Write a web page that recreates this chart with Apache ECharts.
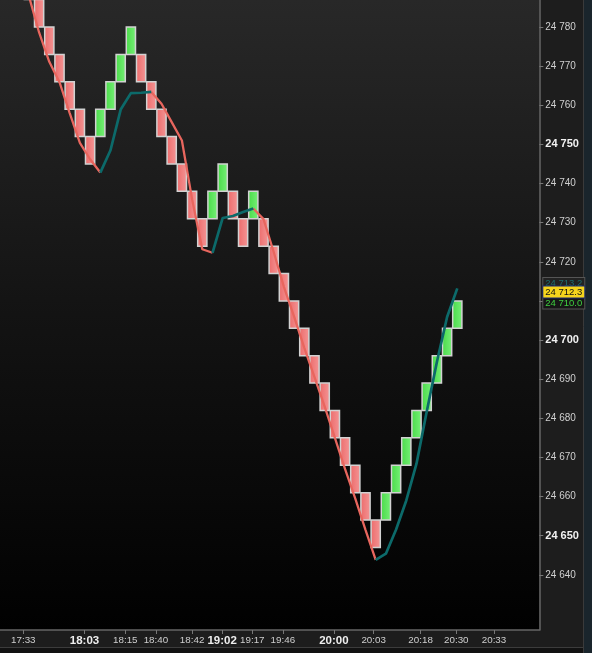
<!DOCTYPE html>
<html>
<head>
<meta charset="utf-8">
<script src="https://cdn.jsdelivr.net/npm/echarts@6/dist/echarts.min.js"></script>
<style>
html,body{margin:0;padding:0;background:#1d1d1d;}
#c{width:592px;height:653px;}
</style>
</head>
<body>
<div id="c"></div>
<script>
// ---- Data ----
const brickSize = 7;
// Renko bricks, one per column (open, close)
const brickOpen = [24794,24787,24780,24773,24766,24759,24752,24752,24759,24766,24773,24773,24766,24759,24752,24745,24738,24731,24731,24738,24738,24731,24731,24731,24724,24717,24710,24703,24696,24689,24682,24675,24668,24661,24654,24654,24661,24668,24675,24682,24689,24696,24703];
const brickClose = [24787,24780,24773,24766,24759,24752,24745,24759,24766,24773,24780,24766,24759,24752,24745,24738,24731,24724,24738,24745,24731,24724,24738,24724,24717,24710,24703,24696,24689,24682,24675,24668,24661,24654,24647,24661,24668,24675,24682,24689,24696,24703,24710];
// Trend line: downtrend (red) and uptrend (teal) parts
const downLine = [24787.9,24778.6,24771.1,24765.9,24758.0,24750.4,24746.2,24742.8,null,null,null,null,24763.4,24760.4,24755.7,24751.0,24736.0,24723.2,24722.3,null,null,null,24733.6,24730.9,24722.5,24713.6,24706.0,24698.0,24690.5,24683.0,24675.0,24667.0,24659.5,24651.5,24643.8,null,null,null,null,null,null,null,null];
const upLine = [null,null,null,null,null,null,null,24742.8,24748.5,24758.9,24763.1,24763.2,24763.4,null,null,null,null,null,24722.3,24731.2,24731.7,24732.7,24733.6,null,null,null,null,null,null,null,null,null,null,null,24643.8,24645.4,24651.6,24659.0,24668.4,24681.7,24694.4,24705.9,24713.2];
// Price axis ticks
const priceTicks = [24640,24650,24660,24670,24680,24690,24700,24710,24720,24730,24740,24750,24760,24770,24780];
const priceLabelTicks = [24640,24650,24660,24670,24680,24690,24700,24720,24730,24740,24750,24760,24770,24780];
// Time axis labels (positions in brick columns)
const timeTickPos = [-0.55,5.45,9.45,12.45,16.0,18.95,21.9,24.9,29.9,33.8,38.4,41.9,45.6];
const timeTickLabels = ['17:33','18:03','18:15','18:40','18:42','19:02','19:17','19:46','20:00','20:03','20:18','20:30','20:33'];
const timeTickBold = ['18:03','19:02','20:00'];
// Price tags on the right
const tagTeal = 24713.2, tagLast = 24712.3, tagBrick = 24710.0;

const FONT = '"Liberation Sans", Arial, sans-serif';
const chart = echarts.init(document.getElementById('c'), null, {renderer:'canvas'});

function fmtPrice(v){
  const s = String(Math.round(v));
  return s.slice(0,2) + ' ' + s.slice(2);
}
function tagText(v){
  const s = v.toFixed(1);
  return s.slice(0,2) + ' ' + s.slice(2);
}

const brickData = brickOpen.map((o,i)=>[i,o,brickClose[i]]);
const toXY = arr => arr.map((v,i)=>[i, v==null ? '-' : v]);

function tag(v, offY, color, bg, border){
  return {yAxis:v,
    lineStyle:{color:'rgba(0,0,0,0)',width:0},
    label:{show:true,position:'end',distance:4,offset:[0,offY],formatter:tagText(v),opacity:1,
    color:color,fontFamily:FONT,fontSize:9.5,backgroundColor:bg,borderColor:border,borderWidth:1,padding:[1,2,0,2]}};
}

const option = {
  backgroundColor:'#1d1d1d',
  animation:false,
  grid:{left:0,right:52.7,top:0,bottom:23,show:true,borderWidth:0,outerBoundsMode:'none',
    backgroundColor:{type:'linear',x:0,y:0,x2:0,y2:1,colorStops:[{offset:0,color:'#282828'},{offset:0.5,color:'#131313'},{offset:1,color:'#010101'}]}},
  xAxis:{
    type:'value', min:-2.833, max:50.04,
    splitLine:{show:false},
    axisLine:{show:true,onZero:false,lineStyle:{color:'#666',width:1.5}},
    axisTick:{show:true,customValues:timeTickPos,length:4,inside:false,lineStyle:{color:'#777'}},
    axisLabel:{show:true,customValues:timeTickPos,margin:5,color:'#cfcfcf',fontFamily:FONT,fontSize:9.8,
      formatter:function(v){
        let best=0,bd=1e9;
        timeTickPos.forEach((p,k)=>{const d=Math.abs(p-v); if(d<bd){bd=d;best=k;}});
        const t=timeTickLabels[best];
        return timeTickBold.indexOf(t)>=0 ? '{b|'+t+'}' : t;
      },
      rich:{b:{fontFamily:FONT,fontSize:11.5,fontWeight:'bold',color:'#eeeeee'}}
    }
  },
  yAxis:{
    type:'value', position:'right', min:24625.9, max:24786.9, scale:true,
    splitLine:{show:false},
    axisLine:{show:true,onZero:false,lineStyle:{color:'#666',width:1.5}},
    axisTick:{show:true,customValues:priceTicks,length:4,lineStyle:{color:'#777'}},
    axisLabel:{show:true,customValues:priceLabelTicks,margin:6,color:'#cfcfcf',fontFamily:FONT,fontSize:10,
      formatter:function(v){
        const s=fmtPrice(v);
        return (Math.round(v)%50===0) ? '{b|'+s+'}' : s;
      },
      rich:{b:{fontFamily:FONT,fontSize:11,fontWeight:'bold',color:'#f2f2f2'}}
    }
  },
  series:[
    {
      type:'custom', name:'bricks', data:brickData, z:2,
      clip:true,
      encode:{x:0,y:[1,2]},
      renderItem:function(params, api){
        const i=api.value(0), o=api.value(1), c=api.value(2);
        const up = c>o;
        const p1=api.coord([i-0.5, Math.max(o,c)]);
        const p2=api.coord([i+0.5, Math.min(o,c)]);
        const fill = up
          ? {type:'linear',x:0,y:0,x2:1,y2:0,colorStops:[{offset:0,color:'#48da48'},{offset:1,color:'#78f078'}]}
          : {type:'linear',x:0,y:0,x2:1,y2:0,colorStops:[{offset:0,color:'#ec6a6a'},{offset:1,color:'#f49696'}]};
        return {type:'rect',
          shape:{x:p1[0]+0.5,y:p1[1],width:p2[0]-p1[0]-1,height:p2[1]-p1[1]},
          style:{fill:fill,stroke:'#d2d2d2',lineWidth:1.5}};
      }
    },
    {
      type:'line', name:'down', data:toXY(downLine), z:3, symbol:'none', connectNulls:false,
      lineStyle:{color:'#e8665e',width:2.3}
    },
    {
      type:'line', name:'up', data:toXY(upLine), z:4, symbol:'none', connectNulls:false,
      lineStyle:{color:'#0c6a6a',width:2.7},
      markLine:{
        silent:true, symbol:'none', animation:false,
        data:[
          tag(tagTeal,-5,'#1d6e6e','#222','#555'),
          tag(tagBrick,2,'#3fcf3f','#161616','#555'),
          tag(tagLast,0,'#111','#f6d51c','#1e2a70')
        ]
      }
    }
  ],
  graphic:[
    {type:'rect',silent:true,z:-1,shape:{x:583,y:0,width:9,height:653},style:{fill:'#1a252c'}},
    {type:'line',silent:true,shape:{x1:583.5,y1:0,x2:583.5,y2:653},style:{stroke:'#3a3a3a',lineWidth:1}},
    {type:'rect',silent:true,shape:{x:0,y:648,width:583,height:5},style:{fill:'#121212'}},
    {type:'line',silent:true,shape:{x1:0,y1:647.5,x2:583,y2:647.5},style:{stroke:'#3c3c3c',lineWidth:1}}
  ]
};
chart.setOption(option);
</script>
</body>
</html>
